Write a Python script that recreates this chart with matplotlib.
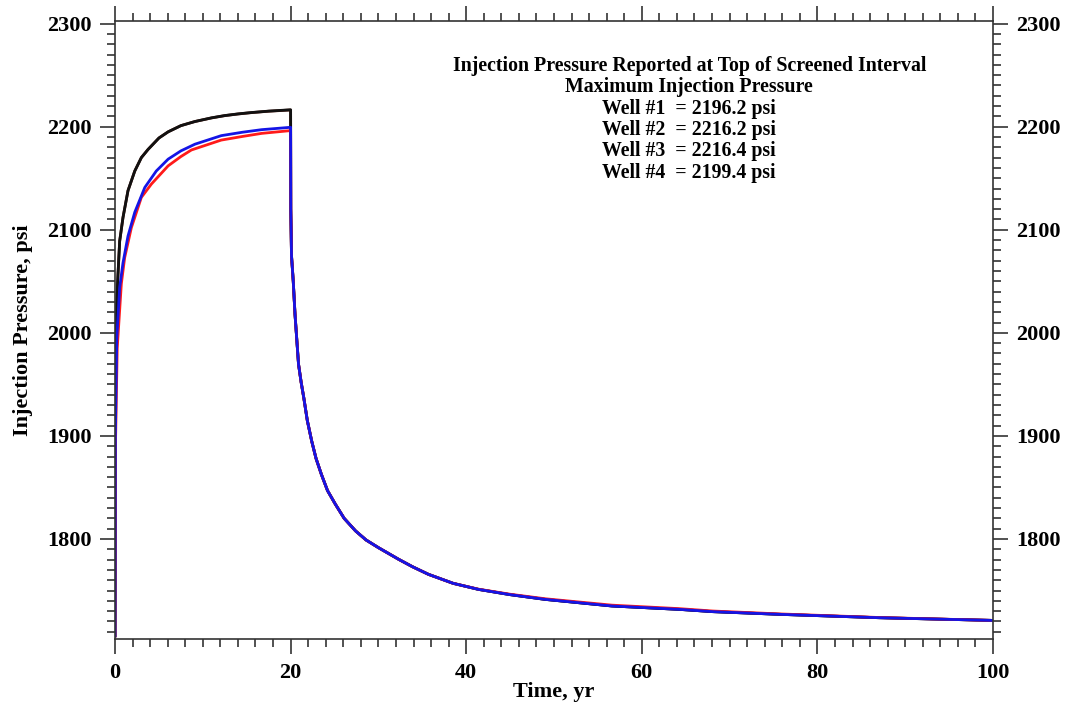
import numpy as np
import matplotlib
matplotlib.use("Agg")
import matplotlib.pyplot as plt
from matplotlib.ticker import MultipleLocator

## Data (time in years, pressure in psi):
# injection period, wells #2 and #3 (nearly identical)
t_inj_23 = [0.0, 0.03, 0.08, 0.15, 0.34, 0.53, 0.91, 1.48, 2.25, 3.0, 3.77, 5.0,
            6.05, 7.5, 9.1, 11.0, 12.5, 14.0, 15.5, 17.5, 20.0]
p_inj_2 = [1706, 1900, 1985, 2020, 2057, 2089, 2112, 2138, 2157, 2170, 2178, 2189,
           2195, 2201, 2205, 2208.5, 2210.7, 2212.3, 2213.6, 2215.0, 2216.2]
p_inj_3 = [1706, 1900, 1985, 2020, 2057, 2089, 2112, 2138, 2157, 2170, 2178, 2189,
           2195, 2201, 2205, 2208.6, 2210.8, 2212.4, 2213.7, 2215.1, 2216.4]

# well #4
t_inj_4 = [0.0, 0.04, 0.2, 0.53, 0.91, 1.48, 2.25, 3.39, 4.7, 6.05, 7.5, 9.1,
           12.1, 14.5, 16.7, 20.0]
p_inj_4 = [1706, 1900, 1995, 2044, 2068, 2094, 2117, 2141, 2157, 2168.5, 2176.5,
           2183, 2191.3, 2194.6, 2197.1, 2199.4]

# well #1
t_inj_1 = [0.0, 0.05, 0.25, 0.72, 1.1, 1.86, 3.0, 4.15, 6.05, 7.5, 8.7, 12.1,
           14.5, 16.7, 20.0]
p_inj_1 = [1706, 1890, 1985, 2047.6, 2073, 2102, 2131.4, 2144.4, 2162, 2171,
           2177.4, 2187, 2190.5, 2193.5, 2196.2]

# falloff after injection stops at 20 yr
t_off = [20.02, 20.1, 20.3, 20.5, 20.9, 21.2, 21.5, 21.9, 22.4, 22.9, 23.5, 24.2,
         25.1, 26.1, 27.4, 28.6, 30.0, 32.3, 33.9, 35.7, 38.5, 41.4, 45.0, 49.0,
         56.6, 64.3, 68.1, 75.7, 87.1, 100.0]
p_off = [2120, 2075, 2050, 2018, 1969.6, 1952, 1937, 1915, 1895, 1878, 1862.8,
         1847, 1833.7, 1820, 1807.8, 1799, 1791.6, 1780.3, 1773, 1765.7, 1757,
         1751.1, 1746, 1741.4, 1735.0, 1731.7, 1729.5, 1726.9, 1723.6, 1721.0]
p_off_1 = [2120, 2075, 2050, 2018, 1969.6, 1952, 1937, 1915, 1895, 1878, 1862.8,
           1847, 1833.7, 1820, 1807.8, 1799, 1791.6, 1780.3, 1773, 1765.7, 1757,
           1751.3, 1746.4, 1742.0, 1735.8, 1732.4, 1730.1, 1727.3, 1723.8, 1721.0]

max_pressure = {"1": 2196.2, "2": 2216.2, "3": 2216.4, "4": 2199.4}

## Plot:
plt.rcParams['font.family'] = ['Liberation Serif', 'DejaVu Serif']
plt.rcParams['font.weight'] = 'bold'

fig = plt.figure(figsize=(10.65, 7.08), dpi=100)
ax = fig.add_axes([0.108, 0.0975, 0.8244, 0.8728])

ax.plot(t_inj_23 + t_off, p_inj_2 + p_off, color='#5a1a10', lw=2.0)
ax.plot(t_inj_23 + t_off, p_inj_3 + p_off, color='#111111', lw=2.0)
ax.plot(t_inj_1 + t_off, p_inj_1 + p_off_1, color='#ff1a1a', lw=2.0)
ax.plot(t_inj_4 + t_off, p_inj_4 + p_off, color='#1414e6', lw=2.0)

ax.set_xlim(0, 100)
ax.set_ylim(1703, 2302.5)
ax.xaxis.set_major_locator(MultipleLocator(20))
ax.xaxis.set_minor_locator(MultipleLocator(2))
ax.yaxis.set_major_locator(MultipleLocator(100))
ax.yaxis.set_minor_locator(MultipleLocator(10))
ax.set_yticks([1800, 1900, 2000, 2100, 2200, 2300])

ax.tick_params(which='both', direction='out', top=True, right=True,
               labelright=True, width=1.2, color='#333333')
ax.tick_params(which='major', length=11, labelsize=16, pad=6)
ax.tick_params(which='minor', length=6)
for s in ax.spines.values():
    s.set_color('#333333')
    s.set_linewidth(1.2)

ax.set_xlabel('Time, yr', fontsize=16, fontweight='bold', va='center')
ax.set_ylabel('Injection Pressure, psi', fontsize=16, fontweight='bold', va='center')
ax.xaxis.set_label_coords(0.5, -0.086)
ax.yaxis.set_label_coords(-0.105, 0.5)

lines = ["Injection Pressure Reported at Top of Screened Interval",
         "Maximum Injection Pressure"]
lines += [f"Well #{k}  = {v:.1f} psi" for k, v in max_pressure.items()]
for i, txt in enumerate(lines):
    ax.text(0.654, 0.927 - i * 0.0345, txt, transform=ax.transAxes,
            ha='center', va='center', fontsize=14.3, fontweight='bold')

plt.savefig("out.png", dpi=100)
